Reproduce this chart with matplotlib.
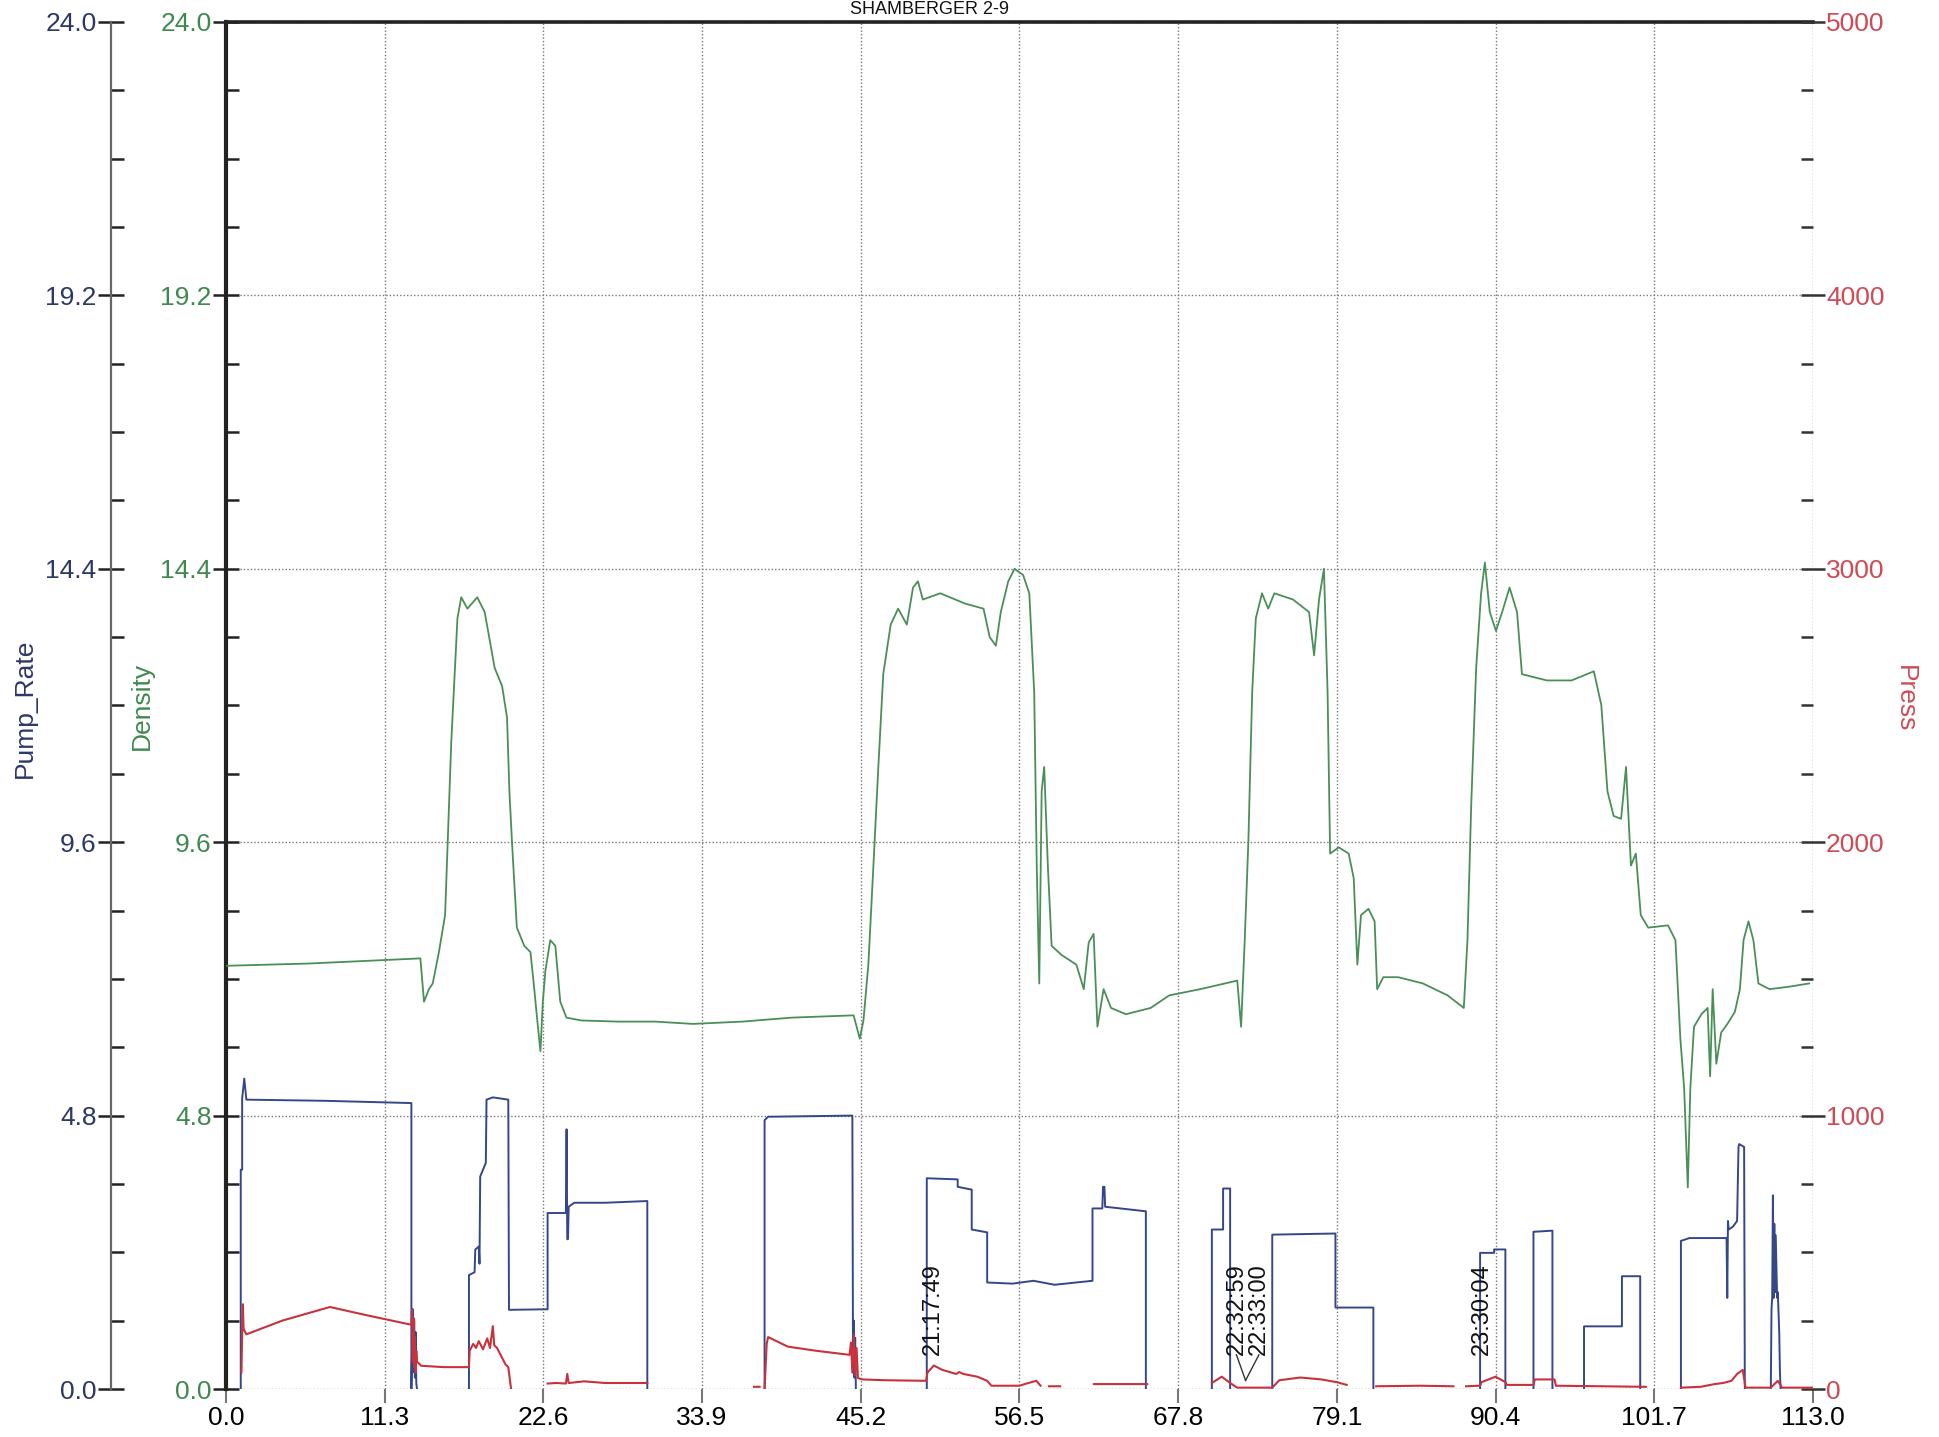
import numpy as np
import matplotlib
matplotlib.use('Agg')
import matplotlib.pyplot as plt
from matplotlib.ticker import FixedLocator, MultipleLocator

plt.rcParams['font.family'] = ['Liberation Sans', 'DejaVu Sans']

nan = np.nan

# axis ticks
x_ticks = [0.0, 11.3, 22.6, 33.9, 45.2, 56.5, 67.8, 79.1, 90.4, 101.7, 113.0]
left_ticks = [0.0, 4.8, 9.6, 14.4, 19.2, 24.0]
press_ticks = [0, 1000, 2000, 3000, 4000, 5000]

# density (green)
density_t = [0.0, 5.9, 13.84, 14.1, 14.45, 14.72, 15.16, 15.6, 16.04, 16.48, 16.75, 17.19, 17.89, 18.42,
             19.13, 19.66, 20.01, 20.18, 20.36, 20.71, 21.24, 21.68, 21.95, 22.21, 22.39, 22.56, 22.74,
             23.09, 23.45, 23.8, 24.24, 25.3, 27.94, 30.58, 33.23, 36.75, 40.28, 44.69, 45.13, 45.39,
             45.74, 46.1, 46.45, 46.8, 47.33, 47.86, 48.48, 48.92, 49.27, 49.62, 50.86, 52.62, 53.94,
             54.38, 54.82, 55.17, 55.7, 56.15, 56.76, 57.2, 57.55, 57.73, 57.91, 58.08, 58.26, 58.52,
             58.79, 59.5, 60.55, 61.08, 61.43, 61.78, 62.05, 62.49, 63.02, 64.08, 65.84, 67.16, 69.37,
             72.01, 72.28, 72.54, 72.8, 73.07, 73.33, 73.77, 74.21, 74.65, 75.98, 77.12, 77.48, 77.83,
             78.18, 78.44, 78.62, 79.24, 79.94, 80.3, 80.56, 80.82, 81.35, 81.79, 81.97, 82.41, 83.47,
             85.23, 86.99, 88.14, 88.4, 88.67, 89.02, 89.37, 89.64, 89.99, 90.43, 90.87, 91.4, 91.93,
             92.28, 94.05, 95.81, 97.4, 97.93, 98.37, 98.81, 99.34, 99.69, 100.04, 100.39, 100.74,
             101.27, 102.68, 103.21, 103.56, 103.83, 104.09, 104.27, 104.53, 105.06, 105.5, 105.68,
             105.86, 106.12, 106.47, 106.91, 107.44, 107.8, 108.06, 108.41, 108.76, 109.12, 109.91,
             111.23, 112.73]
density = [7.43, 7.47, 7.56, 6.80, 7.02, 7.12, 7.67, 8.32, 11.36, 13.53, 13.90, 13.70, 13.90, 13.64,
           12.66, 12.34, 11.79, 10.49, 9.62, 8.10, 7.78, 7.67, 7.02, 6.36, 5.93, 6.80, 7.34,
           7.88, 7.78, 6.80, 6.52, 6.47, 6.45, 6.45, 6.41, 6.45, 6.52, 6.56, 6.15, 6.47,
           7.45, 9.19, 10.92, 12.55, 13.42, 13.70, 13.42, 14.07, 14.18, 13.86, 13.97, 13.79, 13.70,
           13.20, 13.05, 13.64, 14.18, 14.40, 14.29, 13.97, 12.23, 9.19, 7.12, 10.49, 10.92, 9.19,
           7.78, 7.62, 7.45, 7.02, 7.84, 7.99, 6.36, 7.02, 6.69, 6.58, 6.69, 6.91, 7.02,
           7.17, 6.36, 7.88, 9.62, 12.23, 13.53, 13.97, 13.70, 13.97, 13.86, 13.64, 12.88, 13.86,
           14.40, 12.23, 9.40, 9.51, 9.40, 8.97, 7.45, 8.32, 8.43, 8.21, 7.02, 7.23, 7.23,
           7.12, 6.91, 6.69, 7.88, 10.27, 12.66, 13.97, 14.51, 13.64, 13.31, 13.64, 14.07, 13.64,
           12.55, 12.44, 12.44, 12.60, 12.01, 10.49, 10.06, 10.01, 10.92, 9.19, 9.40, 8.32,
           8.10, 8.14, 7.88, 6.15, 5.28, 3.54, 5.28, 6.36, 6.58, 6.69, 5.49,
           7.02, 5.71, 6.26, 6.41, 6.62, 7.02, 7.88, 8.21, 7.88, 7.12, 7.02,
           7.06, 7.12]

# pump rate (navy), one pumping stage per line
pump_t = [1.05, 1.05, 1.15, 1.15, 1.3, 1.45, 7.0, 13.2, 13.2, 13.3, 13.35, 13.4, 13.45, 13.5, 13.55, 13.6, nan,
          17.3, 17.3, 17.7, 17.75, 18.0, 18.05, 18.1, 18.5, 18.55, 19.0, 20.1, 20.15, 22.9, 22.9, 24.2, 24.25, 24.3, 24.35, 24.4, 24.8, 27.0, 30.0, 30.0, nan,
          38.35, 38.35, 38.6, 44.6, 44.65, 44.7, 44.75, 44.8, 44.85, nan,
          49.9, 49.9, 52.1, 52.1, 53.1, 53.1, 54.2, 54.2, 56.0, 57.5, 59.0, 61.7, 61.7, 62.4, 62.45, 62.55, 62.6, 65.5, 65.5, nan,
          70.2, 70.2, 71.0, 71.0, 71.5, 71.5, nan,
          74.5, 74.5, 79.0, 79.0, 81.7, 81.7, nan,
          89.3, 89.3, 90.3, 90.3, 91.1, 91.1, nan,
          93.1, 93.1, 94.45, 94.45, nan,
          96.7, 96.7, 99.4, 99.4, 100.7, 100.7, nan,
          103.6, 103.6, 104.2, 106.85, 106.9, 106.95, 107.0, 107.3, 107.6, 107.7, 107.75, 108.1, 108.15, nan,
          110.0, 110.05, 110.1, 110.15, 110.2, 110.25, 110.3, 110.35, 110.45, 110.5, 110.6, 110.65, 110.7]
pump = [0, 3.85, 3.85, 5.1, 5.45, 5.08, 5.06, 5.02, 0, 1.4, 0.3, 1.2, 0.2, 1.0, 0.1, 0, nan,
        0, 2.0, 2.05, 2.45, 2.5, 2.2, 3.73, 3.97, 5.08, 5.12, 5.08, 1.39, 1.4, 3.09, 3.09, 4.56, 2.63, 2.63, 3.2, 3.27, 3.27, 3.3, 0, nan,
        0, 4.72, 4.78, 4.8, 0.3, 1.2, 0.2, 0.9, 0, nan,
        0, 3.7, 3.68, 3.55, 3.5, 2.8, 2.75, 1.87, 1.85, 1.9, 1.83, 1.9, 3.17, 3.17, 3.55, 3.55, 3.2, 3.12, 0, nan,
        0, 2.8, 2.8, 3.52, 3.52, 0, nan,
        0, 2.71, 2.73, 1.43, 1.43, 0, nan,
        0, 2.39, 2.39, 2.45, 2.45, 0, nan,
        0, 2.76, 2.78, 0, nan,
        0, 1.1, 1.1, 1.98, 1.98, 0, nan,
        0, 2.6, 2.65, 2.65, 1.6, 2.95, 2.8, 2.85, 2.95, 4.25, 4.3, 4.25, 0, nan,
        0, 1.4, 1.6, 3.4, 1.6, 2.9, 1.7, 2.7, 1.6, 1.7, 1.0, 0.3, 0]

# pressure (red)
press_t = [1.1, 1.15, 1.2, 1.25, 1.45, 4.0, 7.4, 10.0, 13.2, 13.25, 13.3, 13.35, 13.4, 13.45, 13.5, 13.55, 13.6, 13.9, 15.5, 17.3,
           17.35, 17.6, 17.8, 18.0, 18.3, 18.6, 18.8, 19.0, 19.1, 19.3, 19.6, 19.9, 20.1, 20.3, nan,
           22.9, 23.5, 24.2, 24.3, 24.4, 25.5, 27.0, 30.0, nan,
           37.6, 38.0, nan,
           38.35, 38.5, 38.6, 40.0, 42.0, 44.4, 44.5, 44.6, 44.7, 44.8, 44.9, 45.0, 45.3, 47.0, 49.85, 49.95, 50.4, 51.0,
           52.0, 52.2, 52.5, 53.5, 54.2, 54.5, 56.5, 57.0, 57.7, 58.0, nan,
           58.6, 59.4, nan,
           61.8, 65.6, nan,
           70.2, 70.9, 71.5, 72.0, 74.5, 75.0, 76.5, 78.0, 79.1, 79.8, nan,
           81.9, 85.0, 87.4, nan,
           88.3, 89.3, 89.4, 90.4, 91.1, 91.2, 93.1, 93.2, 94.6, 94.7, 98.0, 101.1, nan,
           103.6, 105.0, 106.0, 106.6, 107.2, 107.6, 108.0, 108.2, 110.0, 110.5, 110.8, 113.0]
press = [60, 205, 310, 220, 200, 250, 300, 270, 235, 290, 100, 260, 80, 190, 60, 140, 100, 85, 80, 80,
         140, 165, 150, 175, 145, 185, 150, 230, 160, 150, 120, 90, 80, 0, nan,
         20, 22, 20, 55, 22, 28, 22, 22, nan,
         8, 8, nan,
         0, 165, 190, 155, 140, 125, 170, 60, 200, 50, 150, 40, 35, 32, 30, 60, 86, 70,
         55, 62, 55, 45, 30, 12, 12, 20, 30, 12, nan,
         10, 10, nan,
         18, 18, nan,
         22, 45, 22, 5, 5, 32, 42, 35, 25, 15, nan,
         10, 12, 10, nan,
         10, 12, 25, 45, 25, 15, 15, 35, 35, 12, 10, 8, nan,
         5, 8, 18, 22, 30, 55, 70, 5, 5, 30, 5, 5]

# time stamps written on the chart
stamp_text = ["21:17:49", "22:32:59", "22:33:00", "23:30:04"]
stamp_x = [50.3, 71.95, 73.55, 89.4]
stamp_point = [None, (72.6, 0.15), (72.6, 0.15), None]

navy = '#2c3866'
green = '#3e8a4e'
red = '#d04a55'
fs = 19

fig = plt.figure(figsize=(19.4, 14.37), dpi=100)
ax = fig.add_axes([0.1165, 0.0334, 0.818, 0.9513])
ax_pump = ax.twinx()
ax_press = ax.twinx()

# density axis (main, left)
ax.set_xlim(0, 113)
ax.set_ylim(0, 24)
ax.plot(density_t, density, color='#4a8f58', lw=1.3, zorder=3)
ax.xaxis.set_major_locator(FixedLocator(x_ticks))
ax.set_xticklabels(['%.1f' % v for v in x_ticks])
ax.yaxis.set_major_locator(FixedLocator(left_ticks))
ax.yaxis.set_minor_locator(MultipleLocator(1.2))
ax.set_yticklabels(['%.1f' % v for v in left_ticks])
ax.tick_params(axis='y', which='major', direction='inout', length=19, width=1.8, pad=1,
               labelsize=fs, labelcolor=green, color='#222')
ax.tick_params(axis='y', which='minor', direction='in', length=9.5, width=1.8, color='#222')
ax.tick_params(axis='x', direction='out', length=10, width=1.5, pad=2, labelsize=fs, color='#777')
ax.grid(True, which='major', color='#777', linestyle=(0, (1, 1.5)), lw=1)
for s in ['right', 'bottom']:
    ax.spines[s].set_visible(False)
ax.spines['top'].set_linewidth(2.6)
ax.spines['left'].set_linewidth(3)
ax.spines['top'].set_color('#222')
ax.spines['left'].set_color('#222')

# pump rate axis (outer left)
ax_pump.set_ylim(0, 24)
ax_pump.plot(pump_t, pump, color='#34478a', lw=1.4, zorder=3)
ax_pump.yaxis.tick_left()
ax_pump.spines['left'].set_position(('outward', 82.8))
ax_pump.spines['left'].set_visible(True)
ax_pump.spines['left'].set_linewidth(1.6)
ax_pump.spines['left'].set_color('#666')
for s in ['right', 'top', 'bottom']:
    ax_pump.spines[s].set_visible(False)
ax_pump.yaxis.set_major_locator(FixedLocator(left_ticks))
ax_pump.yaxis.set_minor_locator(MultipleLocator(1.2))
ax_pump.set_yticklabels(['%.1f' % v for v in left_ticks])
ax_pump.tick_params(axis='y', which='major', direction='inout', length=19, width=1.8, pad=1,
                    labelsize=fs, labelcolor=navy, color='#222')
ax_pump.tick_params(axis='y', which='minor', direction='in', length=9.5, width=1.8, color='#222')

# pressure axis (right)
ax_press.set_ylim(0, 5000)
ax_press.plot(press_t, press, color='#c8323c', lw=1.5, zorder=4)
ax_press.yaxis.set_major_locator(FixedLocator(press_ticks))
ax_press.yaxis.set_minor_locator(MultipleLocator(250))
ax_press.tick_params(axis='y', which='major', direction='inout', length=17, width=1.8, pad=1,
                     labelsize=fs, labelcolor=red, color='#333')
ax_press.tick_params(axis='y', which='minor', direction='in', length=8.5, width=1.8, color='#333')
for s in ax_press.spines.values():
    s.set_visible(False)

# time stamps, the paired ones joined to one point by a V
for txt, tx, pt in zip(stamp_text, stamp_x, stamp_point):
    ax_pump.text(tx, 0.6, txt, rotation=90, ha='center', va='bottom', fontsize=17, color='#111', zorder=6)
    if pt is not None:
        ax_pump.plot([tx, pt[0]], [0.6, pt[1]], color='#333', lw=1, zorder=6)

# axis titles
fig.text(0.0129, 0.507, 'Pump_Rate', rotation=90, ha='center', va='center', fontsize=fs, color=navy)
fig.text(0.0732, 0.509, 'Density', rotation=90, ha='center', va='center', fontsize=fs, color=green)
fig.text(0.982, 0.5136, 'Press', rotation=270, ha='center', va='center', fontsize=fs, color=red)
fig.text(0.479, 1 - 1 / 1437, 'SHAMBERGER 2-9', ha='center', va='top', fontsize=13, color='#111')

fig.savefig('out.png', dpi=100)
